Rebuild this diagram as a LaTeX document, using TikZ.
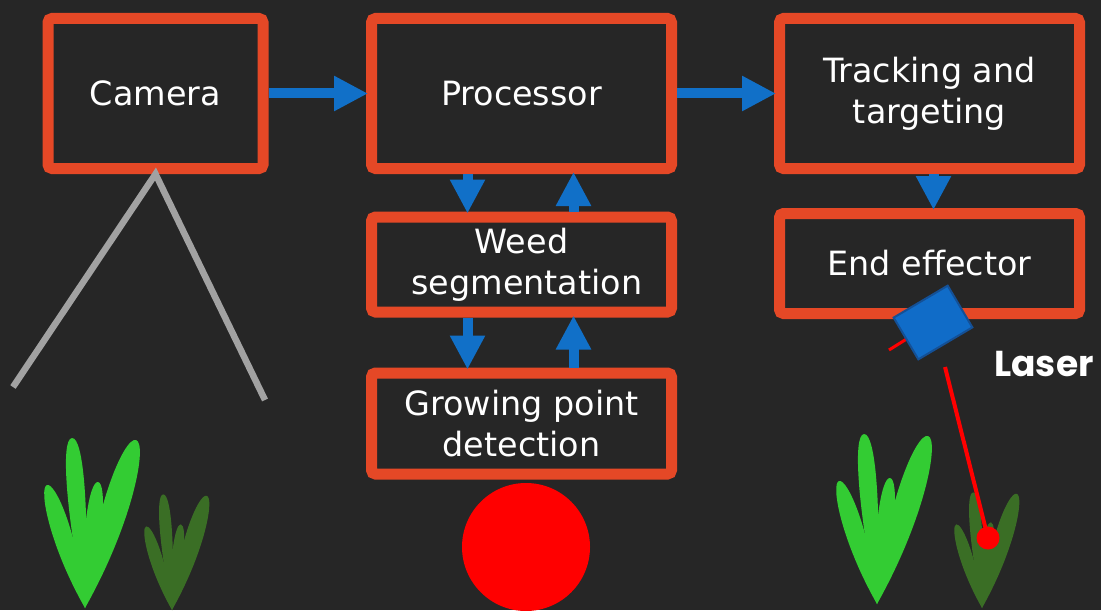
\documentclass[tikz,border=0pt]{standalone}
\usepackage{fontspec}
\setmainfont{DejaVu Sans}
\newfontfamily\tagfont{Poppins}
\usetikzlibrary{arrows.meta, calc, positioning}

\definecolor{bgdark}{RGB}{38,38,38}
\definecolor{boxred}{RGB}{229,72,38}
\definecolor{flowblue}{RGB}{17,112,200}
\definecolor{laserblue}{RGB}{16,108,200}
\definecolor{laseredge}{RGB}{20,80,150}
\definecolor{standgray}{RGB}{162,162,162}
\definecolor{cropgreen}{RGB}{51,204,51}
\definecolor{weedgreen}{RGB}{58,110,37}

% one leaf from the base (0,0) to its tip, #3 = fatness
\newcommand{\blade}[3]{%
  \fill (0,0) .. controls ($(0,0)!0.55!(#1,#2)!#3!90:(#1,#2)$) and ($(#1,#2)!0.07!-90:(0,0)$) .. (#1,#2)
    .. controls ($(#1,#2)!0.07!90:(0,0)$) and ($(0,0)!0.55!(#1,#2)!#3!-90:(#1,#2)$) .. cycle;}
% a tuft of four leaves: base, scale, colour
\newcommand{\plant}[3]{%
  \begin{scope}[shift={#1}, scale=#2, fill=#3]
    \blade{-38}{-123}{0.27}
    \blade{-13}{-170}{0.15}
    \blade{13}{-126}{0.22}
    \blade{51}{-168}{0.27}
  \end{scope}}

\tikzset{
  stage/.style={draw=boxred, line width=5.5pt, rounded corners=2pt, text=white, align=center,
    inner sep=0pt, minimum width=150pt, minimum height=75pt, font=\fontsize{16.7}{20.5}\selectfont},
  flow/.style={flowblue, line width=5pt, -{Triangle[width=16.5pt,length=17pt]},
    shorten >=-1pt},
  stand/.style={standgray, line width=3.25pt},
  beamline/.style={red, line width=2pt},
}

\begin{document}
\begin{tikzpicture}[x=0.5pt, y=-0.5pt]
  \useasboundingbox (0,0) rectangle (1101,610);
  \fill[bgdark] (0,0) rectangle (1101,610);

  % plants on the ground
  \plant{(85,608)}{1}{cropgreen}
  \plant{(172,610)}{0.68}{weedgreen}
  \plant{(877,604)}{1}{cropgreen}
  \plant{(982,608)}{0.68}{weedgreen}

  % pipeline boxes
  \node[stage, minimum width=107.5pt] (cam) at (155.5,93.5) {Camera};
  \node[stage] (proc) at (521.5,93.5) {Processor};
  \node[stage] (track) at (929.5,93.5) {Tracking and\\targeting};
  \node[stage, minimum height=47.5pt] (weed) at (521.5,264.5) {Weed\\\hspace*{0.32em}segmentation};
  \node[stage, minimum height=50.5pt] (grow) at (521.5,423.5) {Growing point\\detection};
  \node[stage, minimum height=50pt] (endeff) at (929.5,263.5) {End effector};

  % data flow
  \draw[flow] (cam.east) -- (proc.west);
  \draw[flow] (proc.east) -- (track.west);
  \draw[flow] ([xshift=2pt]track.south) -- ([xshift=2pt]endeff.north);
  \draw[flow] ([xshift=-27pt]proc.south) -- ([xshift=-27pt]weed.north);
  \draw[flow] ([xshift=26pt]weed.north) -- ([xshift=26pt]proc.south);
  \draw[flow] ([xshift=-27pt]weed.south) -- ([xshift=-27pt]grow.north);
  \draw[flow] ([xshift=26pt]grow.north) -- ([xshift=26pt]weed.south);

  % camera stand
  \coordinate (legL) at (13,387);
  \coordinate (legR) at (265,400);
  \draw[stand] (legL) -- (cam.south) -- (legR);

  % growing point
  \node[circle, fill=red, minimum size=64pt, inner sep=0pt] (blob) at (526,547) {};

  % laser head and beam
  \coordinate (head) at (933,322.5);
  \coordinate (stub) at (889,350);
  \draw[beamline, line width=1.5pt] (stub) -- (head);
  \node[draw=laseredge, fill=laserblue, line width=1pt, rotate=30.6, inner sep=0pt,
    minimum width=31.4pt, minimum height=24.25pt] (laser) at (head) {};
  \coordinate (beam) at (945,367);
  \node[circle, fill=red, minimum size=11.5pt, inner sep=0pt] (spot) at (988,538) {};
  \draw[beamline] (beam) -- (spot.center);
  \node[text=white, font=\tagfont\bfseries\fontsize{18}{20}\selectfont] (lasertag) at (1044,364) {Laser};
\end{tikzpicture}
\end{document}
